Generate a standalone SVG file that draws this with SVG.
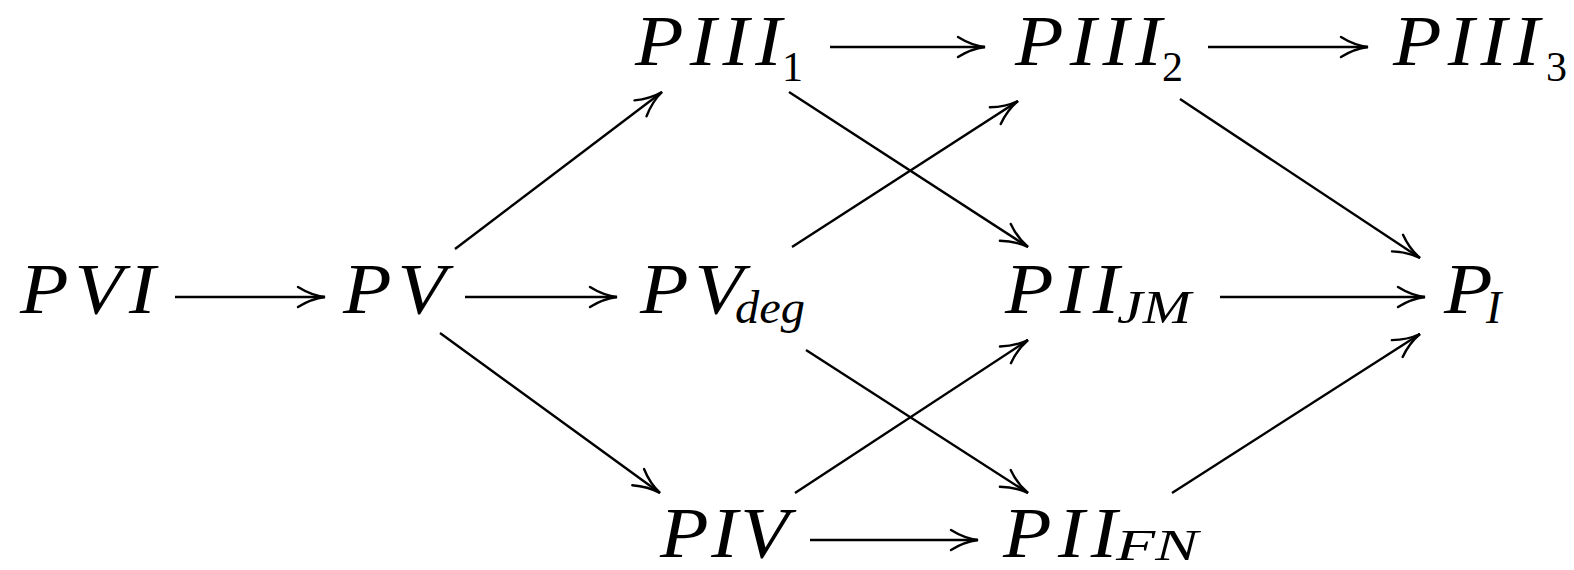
<svg xmlns="http://www.w3.org/2000/svg" width="1574" height="570" viewBox="0 0 1574 570">
<defs>
<style>
.m{font-family:"Liberation Serif","Times New Roman",serif;font-style:italic;font-size:71px;fill:#000}
.s{font-family:"Liberation Serif","Times New Roman",serif;font-style:italic;font-size:46px;fill:#000}
.d{font-family:"Liberation Serif","Times New Roman",serif;font-size:42px;fill:#000}
.e{stroke:#000;stroke-width:2.4;fill:none;marker-end:url(#ah)}
</style>
<marker id="ah" markerUnits="userSpaceOnUse" viewBox="-30 -14 34 28" refX="0" refY="0" markerWidth="34" markerHeight="28" orient="auto" overflow="visible">
<path d="M-27,-10 C-19,-5 -8,-1 0,0 C-8,1 -19,5 -27,10" stroke="#000" stroke-width="2.4" fill="none" stroke-linecap="round"/>
</marker>
</defs>
<rect width="1574" height="570" fill="#fff"/>
<g id="PVI" transform="translate(20,313) scale(1.12,1)"><text class="m" x="0" y="0" textLength="121" lengthAdjust="spacing">PVI</text></g>
<g id="PV" transform="translate(343,313) scale(1.12,1)"><text class="m" x="0" y="0" textLength="92" lengthAdjust="spacing">PV</text></g>
<g id="PVdeg"><g transform="translate(640,313) scale(1.12,1)"><text class="m" x="0" y="0" textLength="92" lengthAdjust="spacing">PV</text></g><text class="s" x="735" y="323" textLength="70" lengthAdjust="spacingAndGlyphs">deg</text></g>
<g id="PIII1"><g transform="translate(635,65) scale(1.12,1)"><text class="m" x="0" y="0" textLength="131" lengthAdjust="spacing">PIII</text></g><text class="d" x="782" y="81">1</text></g>
<g id="PIII2"><g transform="translate(1015,65) scale(1.12,1)"><text class="m" x="0" y="0" textLength="131" lengthAdjust="spacing">PIII</text></g><text class="d" x="1162" y="81">2</text></g>
<g id="PIII3"><g transform="translate(1393,65) scale(1.12,1)"><text class="m" x="0" y="0" textLength="131" lengthAdjust="spacing">PIII</text></g><text class="d" x="1546" y="81">3</text></g>
<g id="PIIJM"><g transform="translate(1005,313) scale(1.12,1)"><text class="m" x="0" y="0" textLength="102" lengthAdjust="spacing">PII</text></g><text class="s" x="1117" y="323" textLength="74" lengthAdjust="spacingAndGlyphs">JM</text></g>
<g id="PI"><g transform="translate(1444,313) scale(1.12,1)"><text class="m" x="0" y="0">P</text></g><text class="s" x="1486" y="323">I</text></g>
<g id="PIV" transform="translate(660,557) scale(1.12,1)"><text class="m" x="0" y="0" textLength="115" lengthAdjust="spacing">PIV</text></g>
<g id="PIIFN"><g transform="translate(1003,557) scale(1.12,1)"><text class="m" x="0" y="0" textLength="102" lengthAdjust="spacing">PII</text></g><text class="s" x="1116" y="560" textLength="82" lengthAdjust="spacingAndGlyphs" style="font-size:45px">FN</text></g>
<g id="connectors">
<line class="e" x1="175" y1="297" x2="325" y2="297"/>
<line class="e" x1="465" y1="297" x2="617" y2="297"/>
<line class="e" x1="1220" y1="297" x2="1425" y2="297"/>
<line class="e" x1="830" y1="47" x2="985" y2="47"/>
<line class="e" x1="1208" y1="47" x2="1368" y2="47"/>
<line class="e" x1="810" y1="540" x2="978" y2="540"/>
<line class="e" x1="455" y1="249" x2="662" y2="92"/>
<line class="e" x1="440" y1="333" x2="660" y2="493"/>
<line class="e" x1="789" y1="92" x2="1028" y2="247"/>
<line class="e" x1="792" y1="247" x2="1018" y2="101"/>
<line class="e" x1="806" y1="350" x2="1028" y2="493"/>
<line class="e" x1="795" y1="493" x2="1028" y2="340"/>
<line class="e" x1="1180" y1="99" x2="1420" y2="258"/>
<line class="e" x1="1172" y1="493" x2="1420" y2="334"/>
</g>
</svg>
